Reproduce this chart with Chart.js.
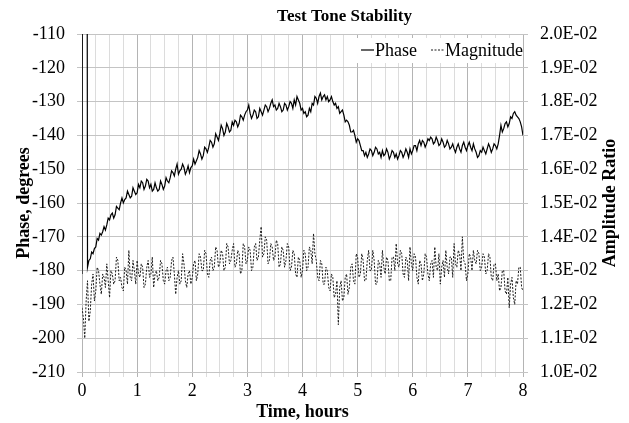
<!DOCTYPE html>
<html>
<head>
<meta charset="utf-8">
<script src="https://cdn.jsdelivr.net/npm/chart.js@4.4.1/dist/chart.umd.min.js"></script>
<style>
  body { margin: 0; background: #fff; }
  #wrap { width: 629px; height: 423px; }
</style>
</head>
<body>
<div id="wrap"><canvas id="toneChart"></canvas></div>
<script>
// time axis, hours (one row = half an hour)
const hours = [
  0, 0.025, 0.05, 0.075, 0.1, 0.125, 0.15, 0.175, 0.2, 0.225, 0.25, 0.275, 0.3, 0.325, 0.35, 0.375, 0.4, 0.425, 0.45, 0.475,
  0.5, 0.525, 0.55, 0.575, 0.6, 0.625, 0.65, 0.675, 0.7, 0.725, 0.75, 0.775, 0.8, 0.825, 0.85, 0.875, 0.9, 0.925, 0.95, 0.975,
  1, 1.025, 1.05, 1.075, 1.1, 1.125, 1.15, 1.175, 1.2, 1.225, 1.25, 1.275, 1.3, 1.325, 1.35, 1.375, 1.4, 1.425, 1.45, 1.475,
  1.5, 1.525, 1.55, 1.575, 1.6, 1.625, 1.65, 1.675, 1.7, 1.725, 1.75, 1.775, 1.8, 1.825, 1.85, 1.875, 1.9, 1.925, 1.95, 1.975,
  2, 2.025, 2.05, 2.075, 2.1, 2.125, 2.15, 2.175, 2.2, 2.225, 2.25, 2.275, 2.3, 2.325, 2.35, 2.375, 2.4, 2.425, 2.45, 2.475,
  2.5, 2.525, 2.55, 2.575, 2.6, 2.625, 2.65, 2.675, 2.7, 2.725, 2.75, 2.775, 2.8, 2.825, 2.85, 2.875, 2.9, 2.925, 2.95, 2.975,
  3, 3.025, 3.05, 3.075, 3.1, 3.125, 3.15, 3.175, 3.2, 3.225, 3.25, 3.275, 3.3, 3.325, 3.35, 3.375, 3.4, 3.425, 3.45, 3.475,
  3.5, 3.525, 3.55, 3.575, 3.6, 3.625, 3.65, 3.675, 3.7, 3.725, 3.75, 3.775, 3.8, 3.825, 3.85, 3.875, 3.9, 3.925, 3.95, 3.975,
  4, 4.025, 4.05, 4.075, 4.1, 4.125, 4.15, 4.175, 4.2, 4.225, 4.25, 4.275, 4.3, 4.325, 4.35, 4.375, 4.4, 4.425, 4.45, 4.475,
  4.5, 4.525, 4.55, 4.575, 4.6, 4.625, 4.65, 4.675, 4.7, 4.725, 4.75, 4.775, 4.8, 4.825, 4.85, 4.875, 4.9, 4.925, 4.95, 4.975,
  5, 5.025, 5.05, 5.075, 5.1, 5.125, 5.15, 5.175, 5.2, 5.225, 5.25, 5.275, 5.3, 5.325, 5.35, 5.375, 5.4, 5.425, 5.45, 5.475,
  5.5, 5.525, 5.55, 5.575, 5.6, 5.625, 5.65, 5.675, 5.7, 5.725, 5.75, 5.775, 5.8, 5.825, 5.85, 5.875, 5.9, 5.925, 5.95, 5.975,
  6, 6.025, 6.05, 6.075, 6.1, 6.125, 6.15, 6.175, 6.2, 6.225, 6.25, 6.275, 6.3, 6.325, 6.35, 6.375, 6.4, 6.425, 6.45, 6.475,
  6.5, 6.525, 6.55, 6.575, 6.6, 6.625, 6.65, 6.675, 6.7, 6.725, 6.75, 6.775, 6.8, 6.825, 6.85, 6.875, 6.9, 6.925, 6.95, 6.975,
  7, 7.025, 7.05, 7.075, 7.1, 7.125, 7.15, 7.175, 7.2, 7.225, 7.25, 7.275, 7.3, 7.325, 7.35, 7.375, 7.4, 7.425, 7.45, 7.475,
  7.5, 7.525, 7.55, 7.575, 7.6, 7.625, 7.65, 7.675, 7.7, 7.725, 7.75, 7.775, 7.8, 7.825, 7.85, 7.875, 7.9, 7.925, 7.95, 7.975,
  8
];

// phase in degrees (the +179 values are the wrap-around spike at the start)
const phaseDeg = [
  -181, 179, 178.5, 179, -179, -177, -176.5, -174.5, -175, -173.5, -173, -170.5, -171, -169, -169.5, -168.5, -167, -168, -166.5, -164.5,
  -165, -163.5, -163, -164.5, -163.5, -161, -161.5, -162, -160, -158.5, -160, -159, -158.5, -156.5, -157.5, -158.5, -158, -155.5, -156.5, -157.5,
  -157, -154.5, -155.5, -153.5, -154, -156, -155, -153, -153.5, -155.5, -154.5, -156.5, -156, -154, -155.5, -156.5, -156, -153.5, -154.5, -156,
  -155, -152.5, -153.5, -154, -152.5, -150.5, -151, -152, -150, -148.5, -151.5, -150.5, -150, -148.5, -149.5, -151.5, -150.5, -149, -151, -149.5,
  -149, -147, -148.5, -147.5, -146.5, -144.5, -145.5, -147, -146, -143.5, -144, -145, -143.5, -141.5, -142, -143.5, -142.5, -139.5, -140.5, -141.5,
  -139.5, -137, -138, -140, -139, -136.5, -137.5, -139, -138.5, -136, -137, -135.5, -136, -137.5, -136.5, -134, -134.5, -135.5, -134, -133,
  -132.5, -131, -133.5, -135, -134, -132.5, -133, -135, -134.5, -132, -133, -134, -132.5, -131, -131.5, -133, -132, -130.5, -129.5, -131.5,
  -131, -132.5, -132, -130.5, -131.5, -133, -132.5, -130.5, -131, -132.5, -131.5, -130, -130.5, -132, -129.5, -131, -128.5, -129.5, -130.5, -132.5,
  -132, -133.5, -133, -134.5, -134, -132, -133, -130.5, -131, -128.5, -129, -130.5, -128.5, -127.5, -129.5, -128.5, -128, -129.5, -128.5, -130,
  -129.5, -128.5, -130, -131, -130.5, -132, -131.5, -133.5, -133, -132.5, -134, -136, -135.5, -136, -137, -139, -139, -138.5, -140, -142,
  -141, -141.5, -143, -144.5, -144.5, -146, -145, -146.5, -145.5, -144, -144.5, -146, -145, -143.5, -144, -145.5, -145, -146.5, -144.5, -146,
  -145.5, -144, -145, -147, -146, -144.5, -145, -146.5, -145.5, -147, -146, -144.5, -145, -146.5, -145.5, -144, -145, -146.5, -144, -145.5,
  -144.5, -143, -143, -144.5, -142.5, -141.5, -143, -141.5, -142, -143.5, -142.5, -141, -141.5, -140.5, -141, -142.5, -142, -140.5, -141.5, -143,
  -142.5, -141, -142, -143.5, -143, -141.5, -142.5, -144, -143.5, -142.5, -144, -145, -143.5, -142.5, -144, -145, -143, -142, -143.5, -144.5,
  -143, -142, -143.5, -144.5, -142.5, -144, -145, -146.5, -146, -144.5, -145, -143.5, -144.5, -145.5, -144, -142.5, -143.5, -145, -144, -142.5,
  -143, -144, -142.5, -140, -137, -139, -138, -136.5, -136, -137.5, -136.5, -134.5, -135, -133.5, -133, -134, -134.5, -135, -136, -137.5,
  -140
];

// amplitude ratio
const magnitude = [
  0.0119, 0.0116, 0.0110, 0.0121, 0.0127, 0.0115, 0.0118, 0.0126, 0.0129, 0.0121, 0.0124, 0.0131, 0.0130, 0.0126, 0.0123, 0.0129, 0.0128, 0.0125, 0.0132, 0.0127,
  0.0122, 0.0130, 0.0129, 0.0126, 0.0127, 0.0134, 0.0133, 0.0127, 0.0128, 0.0125, 0.0124, 0.0131, 0.0130, 0.0126, 0.0136, 0.0128, 0.0127, 0.0133, 0.0130, 0.0126,
  0.0133, 0.0129, 0.0128, 0.0132, 0.0131, 0.0125, 0.0126, 0.0131, 0.0133, 0.0128, 0.0129, 0.0134, 0.0125, 0.0129, 0.0130, 0.0127, 0.0128, 0.0133, 0.0132, 0.0127,
  0.0126, 0.0130, 0.0131, 0.0127, 0.0128, 0.0133, 0.0134, 0.0129, 0.0123, 0.0128, 0.0130, 0.0126, 0.0127, 0.0135, 0.0132, 0.0127, 0.0125, 0.0129, 0.0130, 0.0126,
  0.0128, 0.0132, 0.0133, 0.0127, 0.0129, 0.0135, 0.0134, 0.0130, 0.0130, 0.0136, 0.0135, 0.0129, 0.0128, 0.0133, 0.0134, 0.0130, 0.0131, 0.0137, 0.0136, 0.0131,
  0.0132, 0.0136, 0.0135, 0.0130, 0.0131, 0.0138, 0.0137, 0.0132, 0.0133, 0.0136, 0.0138, 0.0131, 0.0132, 0.0136, 0.0135, 0.0129, 0.0130, 0.0138, 0.0137, 0.0132,
  0.0133, 0.0137, 0.0136, 0.0130, 0.0131, 0.0137, 0.0138, 0.0133, 0.0134, 0.0139, 0.0143, 0.0134, 0.0135, 0.0140, 0.0139, 0.0132, 0.0133, 0.0138, 0.0137, 0.0133,
  0.0134, 0.0139, 0.0138, 0.0131, 0.0132, 0.0137, 0.0136, 0.0131, 0.0133, 0.0138, 0.0137, 0.0130, 0.0131, 0.0136, 0.0135, 0.0129, 0.0128, 0.0134, 0.0133, 0.0128,
  0.0130, 0.0136, 0.0135, 0.0130, 0.0131, 0.0137, 0.0136, 0.0132, 0.0141, 0.0135, 0.0133, 0.0128, 0.0127, 0.0133, 0.0132, 0.0126, 0.0126, 0.0131, 0.0130, 0.0125,
  0.0124, 0.0129, 0.0128, 0.0122, 0.0123, 0.0127, 0.0114, 0.0125, 0.0127, 0.0121, 0.0122, 0.0128, 0.0129, 0.0123, 0.0125, 0.0131, 0.0132, 0.0127, 0.0126, 0.0135,
  0.0134, 0.0128, 0.0129, 0.0135, 0.0133, 0.0127, 0.0127, 0.0133, 0.0136, 0.0130, 0.0130, 0.0136, 0.0133, 0.0126, 0.0126, 0.0133, 0.0132, 0.0128, 0.0136, 0.0131,
  0.0129, 0.0134, 0.0133, 0.0127, 0.0127, 0.0134, 0.0134, 0.0130, 0.0138, 0.0132, 0.0131, 0.0136, 0.0135, 0.0129, 0.0128, 0.0134, 0.0133, 0.0127, 0.0137, 0.0132,
  0.0130, 0.0135, 0.0134, 0.0128, 0.0126, 0.0133, 0.0132, 0.0127, 0.0129, 0.0135, 0.0134, 0.0129, 0.0127, 0.0132, 0.0133, 0.0128, 0.0137, 0.0131, 0.0130, 0.0135,
  0.0126, 0.0131, 0.0133, 0.0128, 0.0136, 0.0131, 0.0129, 0.0134, 0.0134, 0.0128, 0.0138, 0.0132, 0.0131, 0.0136, 0.0135, 0.0130, 0.0140, 0.0133, 0.0132, 0.0127,
  0.0129, 0.0135, 0.0134, 0.0130, 0.0136, 0.0133, 0.0132, 0.0136, 0.0135, 0.0130, 0.0131, 0.0135, 0.0134, 0.0129, 0.0130, 0.0135, 0.0134, 0.0128, 0.0127, 0.0132,
  0.0132, 0.0127, 0.0129, 0.0124, 0.0125, 0.0130, 0.0130, 0.0124, 0.0123, 0.0128, 0.0119, 0.0126, 0.0128, 0.0122, 0.0120, 0.0127, 0.0126, 0.0131, 0.0131, 0.0125,
  0.0124
];

const FONT = '"Liberation Serif", "Times New Roman", serif';

function sciLabel(v) {
  const parts = v.toExponential(1).split('e');
  const exp = parseInt(parts[1], 10);
  return parts[0] + 'E' + (exp < 0 ? '-' : '+') + String(Math.abs(exp)).padStart(2, '0');
}

function isWhole(v) {
  return Math.abs(v - Math.round(v)) < 1e-6;
}

// legend sits inside the plot, top right, on a white patch
const insideLegend = {
  id: 'insideLegend',
  afterDatasetsDraw(chart) {
    const { ctx, chartArea } = chart;
    const sets = chart.data.datasets;
    const sample = 13, spacing = 14;
    ctx.save();
    ctx.font = '18px ' + FONT;
    const widths = sets.map(d => sample + 1 + ctx.measureText(d.label).width);
    const total = widths.reduce((a, b) => a + b, 0) + spacing * (sets.length - 1);
    let x = chartArea.right - total;
    const y = chartArea.top + 16;
    ctx.fillStyle = '#fff';
    ctx.fillRect(x - 8, chartArea.top + 4, total + 8, 25);
    sets.forEach((d, i) => {
      ctx.strokeStyle = d.borderColor;
      ctx.lineWidth = d.borderWidth;
      ctx.setLineDash(d.borderDash || []);
      ctx.beginPath();
      ctx.moveTo(x, y);
      ctx.lineTo(x + sample, y);
      ctx.stroke();
      ctx.setLineDash([]);
      ctx.fillStyle = '#000';
      ctx.textAlign = 'left';
      ctx.textBaseline = 'middle';
      ctx.fillText(d.label, x + sample + 1, y + 1);
      x += widths[i] + spacing;
    });
    ctx.restore();
  }
};

// right axis title reads bottom-to-top like the left one
const rightTitle = {
  id: 'rightTitle',
  afterDraw(chart) {
    const { ctx, chartArea } = chart;
    ctx.save();
    ctx.translate(610, (chartArea.top + chartArea.bottom) / 2);
    ctx.rotate(-Math.PI / 2);
    ctx.font = 'bold 18px ' + FONT;
    ctx.fillStyle = '#000';
    ctx.textAlign = 'center';
    ctx.textBaseline = 'middle';
    ctx.fillText('Amplitude Ratio', 0, 0);
    ctx.restore();
  }
};

// title in the original sits a little right of centre
const titleShift = {
  id: 'titleShift',
  afterLayout(chart) {
    if (chart.titleBlock) {
      chart.titleBlock.left += 30;
      chart.titleBlock.right += 30;
    }
  }
};

const ctx = document.getElementById('toneChart').getContext('2d');
new Chart(ctx, {
  type: 'line',
  data: {
    labels: hours,
    datasets: [
      {
        label: 'Phase',
        data: hours.map((h, i) => ({ x: h, y: phaseDeg[i] })),
        yAxisID: 'y',
        borderColor: '#000',
        borderWidth: 1.2,
        pointRadius: 0,
        tension: 0
      },
      {
        label: 'Magnitude',
        data: hours.map((h, i) => ({ x: h, y: magnitude[i] })),
        yAxisID: 'y2',
        borderColor: '#1a1a1a',
        borderWidth: 1,
        borderDash: [2, 1.5],
        pointRadius: 0,
        tension: 0
      }
    ]
  },
  options: {
    responsive: true,
    maintainAspectRatio: false,
    animation: false,
    layout: { padding: 0 },
    plugins: {
      legend: { display: false },
      tooltip: { enabled: false },
      title: {
        display: true,
        text: 'Test Tone Stability',
        color: '#000',
        font: { family: FONT, size: 17, weight: 'bold' },
        padding: { top: 6.5, bottom: 7.1 }
      }
    },
    scales: {
      x: {
        type: 'linear',
        min: 0,
        max: 8,
        afterFit: s => { s.height = 51; },
        border: { display: false },
        grid: {
          color: c => isWhole(c.tick.value) ? '#b4b4b4' : '#dcdcdc',
          tickLength: 5
        },
        ticks: {
          stepSize: 0.25,
          autoSkip: false,
          maxRotation: 0,
          padding: 3,
          color: '#000',
          font: { family: FONT, size: 18 },
          callback: v => isWhole(v) ? String(Math.round(v)) : ''
        },
        title: {
          display: true,
          text: 'Time, hours',
          color: '#000',
          font: { family: FONT, size: 18, weight: 'bold' },
          padding: { top: 0, bottom: 0 }
        }
      },
      y: {
        position: 'left',
        min: -210,
        max: -110,
        afterFit: s => { s.width = 82; },
        border: { display: false },
        grid: { color: '#c4c4c4', tickLength: 5 },
        ticks: {
          stepSize: 10,
          padding: 12,
          color: '#000',
          font: { family: FONT, size: 18 }
        },
        title: {
          display: true,
          text: 'Phase, degrees',
          color: '#000',
          font: { family: FONT, size: 18, weight: 'bold' },
          padding: { top: 14, bottom: 0 }
        }
      },
      y2: {
        position: 'right',
        min: 0.01,
        max: 0.02,
        afterFit: s => { s.width = 106; },
        border: { display: false },
        grid: { drawOnChartArea: false, color: '#c4c4c4', tickLength: 5 },
        ticks: {
          stepSize: 0.001,
          padding: 12,
          color: '#000',
          font: { family: FONT, size: 18 },
          callback: v => sciLabel(v)
        }
      }
    }
  },
  plugins: [insideLegend, rightTitle, titleShift]
});
</script>
</body>
</html>
